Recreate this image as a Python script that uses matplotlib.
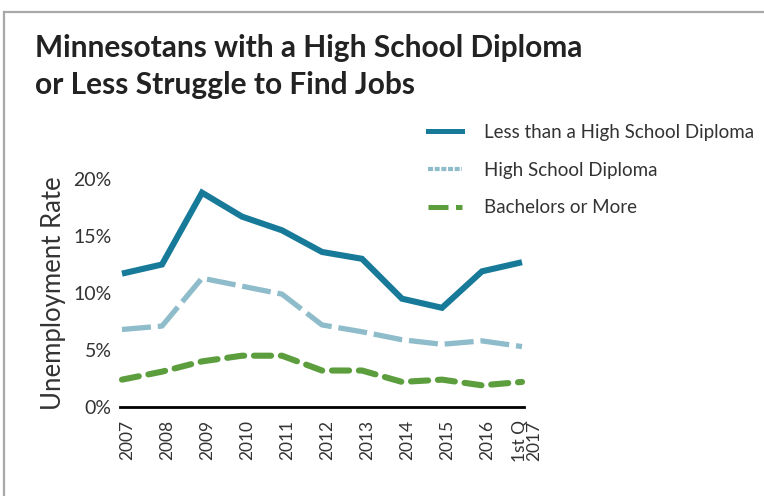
import matplotlib
matplotlib.use("Agg")
import matplotlib.pyplot as plt
import matplotlib.transforms as mtransforms
from matplotlib.lines import Line2D

years = ["2007", "2008", "2009", "2010", "2011", "2012", "2013", "2014", "2015", "2016", "1st Q\n2017"]
less_hs = [11.7, 12.5, 18.8, 16.7, 15.5, 13.6, 13.0, 9.5, 8.7, 11.9, 12.7]
hs_diploma = [6.8, 7.1, 11.3, 10.6, 9.9, 7.2, 6.6, 5.9, 5.5, 5.8, 5.3]
bachelors = [2.4, 3.1, 4.0, 4.5, 4.5, 3.2, 3.2, 2.2, 2.4, 1.9, 2.2]
yticks = [0, 5, 10, 15, 20]
ytick_labels = ["0%", "5%", "10%", "15%", "20%"]
series_names = ["Less than a High School Diploma", "High School Diploma", "Bachelors or More"]

c_less = "#177a99"
c_hs = "#8ebccb"
c_bach = "#5c9e3e"

FONT = ["Lato", "DejaVu Sans"]
plt.rcParams["font.family"] = FONT

fig = plt.figure(figsize=(7.64, 4.96), dpi=100)
fig.patch.set_facecolor("white")

# frame border (top and left only)
bx, by = 4 / 764, 1 - 12 / 496
fig.add_artist(Line2D([bx, 1.0], [by, by], transform=fig.transFigure, color="#a9a9a9", lw=1.6))
fig.add_artist(Line2D([bx, bx], [0.0, by], transform=fig.transFigure, color="#a9a9a9", lw=1.6))

ax = fig.add_axes([120 / 764, 1 - 407 / 496, (524 - 120) / 764, (407 - 179) / 496])
x = list(range(len(years)))
ax.plot(x, less_hs, color=c_less, lw=4.4, solid_capstyle="butt", solid_joinstyle="miter", clip_on=False)
ax.plot(x, hs_diploma, color=c_hs, lw=3.8, dashes=(5.5, 1.3), dash_capstyle="butt", clip_on=False)
ax.plot(x, bachelors, color=c_bach, lw=4.4, dashes=(2.8, 1.6), dash_capstyle="round", clip_on=False)

ax.set_xlim(-0.05, 10.05)
ax.set_ylim(0, 20)
for s in ["top", "right", "left"]:
    ax.spines[s].set_visible(False)
ax.spines["bottom"].set_linewidth(2.0)
ax.spines["bottom"].set_color("black")
ax.set_yticks(yticks)
ax.set_yticklabels(ytick_labels, fontsize=14, color="#333333")
ax.tick_params(axis="y", length=0, pad=6)
ax.set_xticks(x)
ax.set_xticklabels(years, rotation=90, fontsize=12.5, color="#333333", linespacing=0.9)
ax.tick_params(axis="x", length=0, pad=9)
offset = mtransforms.ScaledTranslation(5 / 100, 0, fig.dpi_scale_trans)
for lab in ax.get_xticklabels():
    lab.set_transform(lab.get_transform() + offset)
ax.set_ylabel("Unemployment Rate", fontsize=18.5, color="#333333", labelpad=5)

fig.text(35 / 764, 1 - 94 / 496, "Minnesotans with a High School Diploma\nor Less Struggle to Find Jobs",
         fontsize=21.5, fontweight="bold",
         color="#222222", va="baseline", linespacing=1.38)

handles = [
    Line2D([0], [0], color=c_less, lw=3.6),
    Line2D([0], [0], color=c_hs, lw=3.0, dashes=(1.2, 0.4)),
    Line2D([0], [0], color=c_bach, lw=3.6, dashes=(4, 1.5, 1.5, 1.5)),
]
leg = fig.legend(handles, series_names, loc="upper left", bbox_to_anchor=(428 / 764, 1 - 124 / 496),
                 frameon=False, fontsize=13.5, handlelength=1.8, handletextpad=1.17,
                 labelspacing=1.1, borderaxespad=0, borderpad=0)
for t in leg.get_texts():
    t.set_color("#333333")

fig.savefig("out.png", dpi=100)
